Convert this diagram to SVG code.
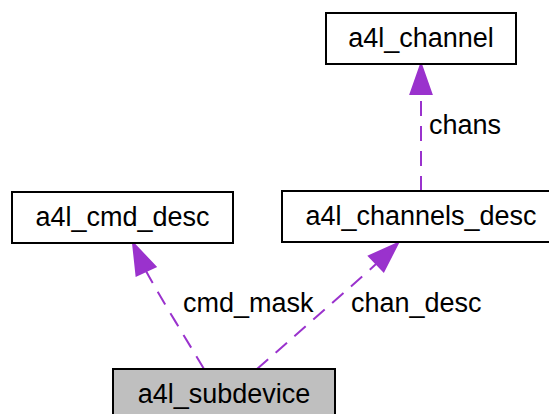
<svg xmlns="http://www.w3.org/2000/svg" width="549" height="414" viewBox="0 0 549 414">
<style>
.box{fill:#ffffff;stroke:#000000;stroke-width:2}
.sel{fill:#bfbfbf;stroke:#000000;stroke-width:2}
text{font-family:"Liberation Sans",Arial,Helvetica,sans-serif;font-size:27px;fill:#000000}
.n{text-anchor:middle}
.edge{fill:none;stroke:#9a32cd;stroke-width:2;stroke-dasharray:15,10}
.head{fill:#9a32cd;stroke:#9a32cd;stroke-width:2}
</style>
<rect width="549" height="414" fill="#ffffff"/>
<g id="connectors">
<g id="e-chans">
<path class="edge" d="M421,191 L421,94"/>
<polygon class="head" points="421,64 431.5,94 410.5,94"/>
<text x="429" y="134">chans</text>
</g>
<g id="e-cmd_mask">
<path class="edge" d="M204,369 C188,342 160,297 146,271"/>
<polygon class="head" points="133,243 155.5,266.6 136.5,275.4"/>
<text x="183" y="312">cmd_mask</text>
</g>
<g id="e-chan_desc">
<path class="edge" d="M257,369 C290,340 345,292 376.3,263.8"/>
<polygon class="head" points="398,243 383.6,271.4 369,256.2"/>
<text x="351" y="312">chan_desc</text>
</g>
</g>
<g id="a4l_channel">
<rect class="box" x="326" y="13" width="190" height="51"/>
<text class="n" x="421" y="47">a4l_channel</text>
</g>
<g id="a4l_cmd_desc">
<rect class="box" x="12" y="192" width="221" height="51"/>
<text class="n" x="122.5" y="226">a4l_cmd_desc</text>
</g>
<g id="a4l_channels_desc">
<rect class="box" x="282" y="191" width="278" height="51"/>
<text class="n" x="421" y="225">a4l_channels_desc</text>
</g>
<g id="a4l_subdevice">
<rect class="sel" x="113" y="369" width="222" height="51"/>
<text class="n" x="224" y="403">a4l_subdevice</text>
</g>
</svg>
